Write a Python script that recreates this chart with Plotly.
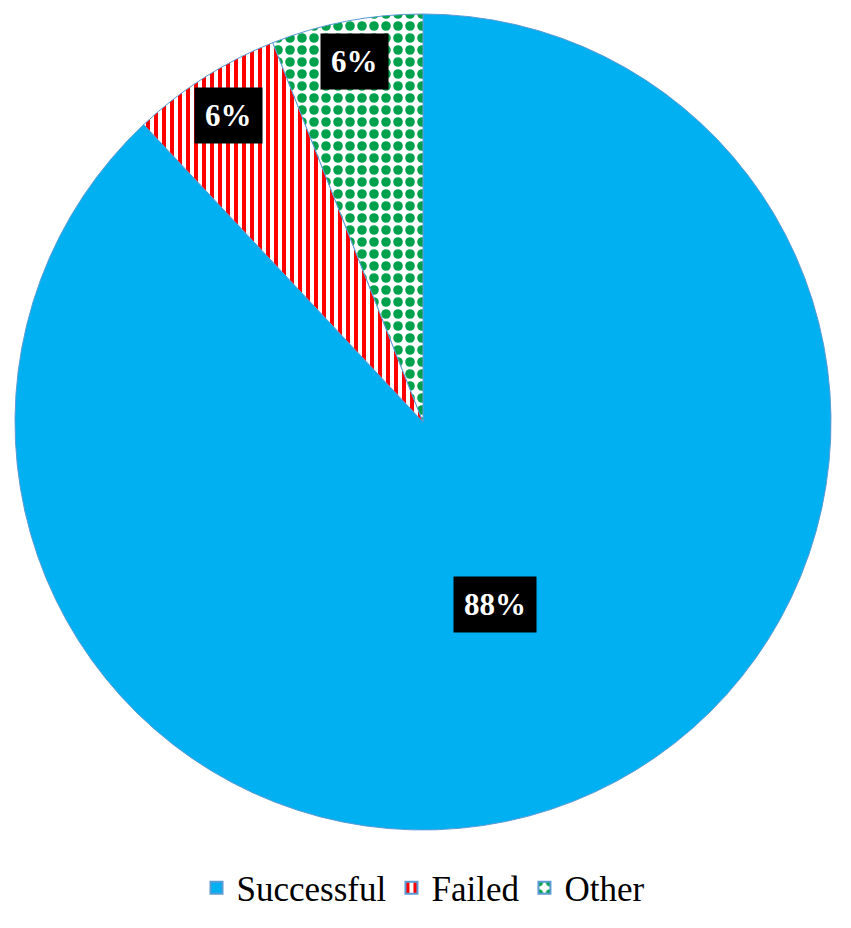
import math
import plotly.graph_objects as go

# data
labels = ["Successful", "Failed", "Other"]
values = [88, 6, 6]

# styling
fills = ["#00B0F0", "white", "white"]
pattern_colors = ["#00B0F0", "#FF0000", "#00A14B"]
shapes = ["", "|", "."]
label_r = [0.48, 0.89, 0.9]   # label distance from centre, fraction of radius
FONT = "Liberation Serif, Times New Roman, serif"

fig = go.Figure()
fig.add_trace(go.Pie(
    labels=labels, values=values,
    sort=False, direction="clockwise", rotation=0,
    textinfo="none", hoverinfo="label+percent",
    marker=dict(
        colors=fills,
        line=dict(color="#5B9BD5", width=1),
        pattern=dict(shape=shapes, fgcolor=pattern_colors, bgcolor=fills, fgopacity=1,
                     size=[8, 8, 12], solidity=[0.5, 0.5, 0.5], fillmode="overlay"),
    ),
))

# percentage labels in black boxes, placed at each slice's mid angle
total = sum(values)
cum = 0
for v, f in zip(values, label_r):
    mid = (cum + v / 2) / total * 2 * math.pi
    cum += v
    fig.add_annotation(
        x=0.5 + 0.5 * f * math.sin(mid), y=0.5 + 0.5 * f * math.cos(mid),
        xref="paper", yref="paper", xanchor="center", yanchor="middle",
        showarrow=False,
        text="<b>%d%%</b>" % round(v / total * 100),
        font=dict(family=FONT, size=31, color="white"),
        bgcolor="black", borderpad=10,
    )

# the page body adds an 8px offset, margins are shifted to compensate
fig.update_layout(
    width=851, height=928,
    paper_bgcolor="white", plot_bgcolor="white",
    font=dict(family=FONT, color="black"),
    margin={'l': 7, 'r': 28, 't': 6, 'b': 106},
    showlegend=True,
    legend=dict(orientation="h", x=0.5, xanchor="center", y=-0.035, yanchor="top",
                font=dict(size=35, family=FONT), itemsizing="constant"),
)

fig.write_html("out.html")
